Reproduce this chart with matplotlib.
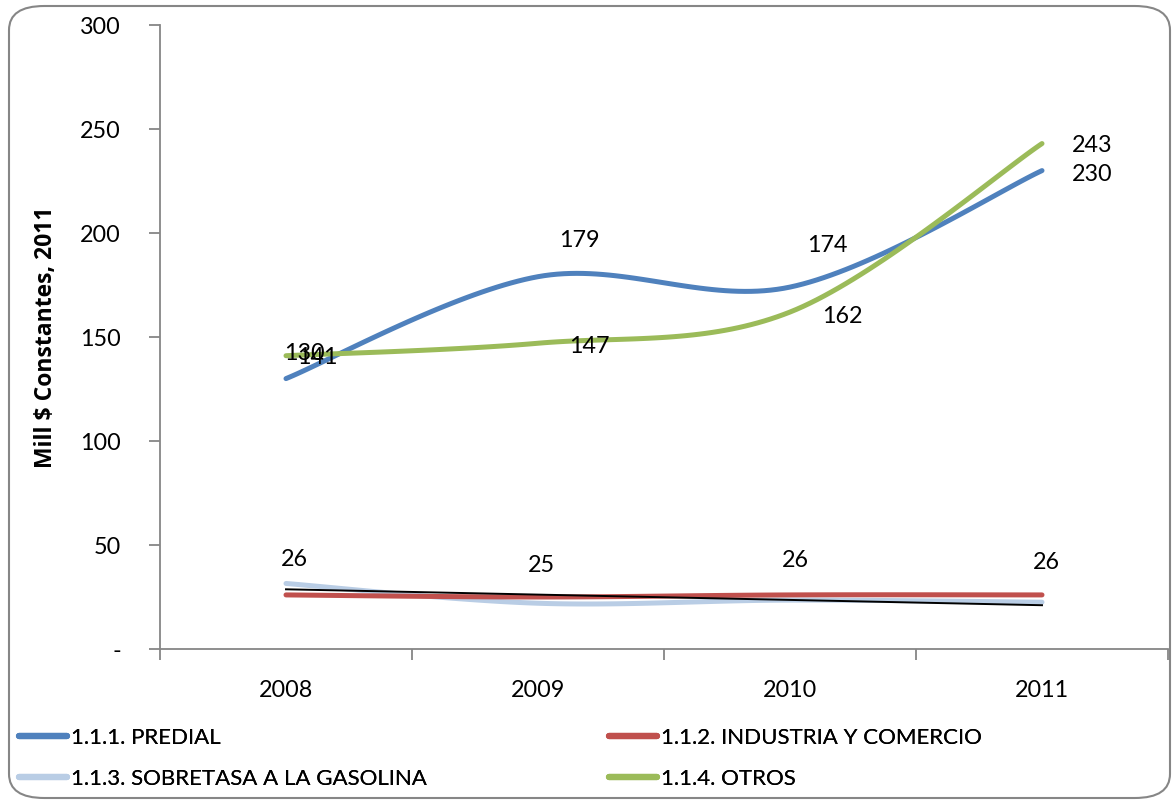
import numpy as np
import matplotlib
matplotlib.use("Agg")
import matplotlib.pyplot as plt
from matplotlib.patches import FancyBboxPatch
from matplotlib.lines import Line2D

years = ["2008", "2009", "2010", "2011"]
predial = [130, 179, 174, 230]
industria = [26, 25, 26, 26]
sobretasa = [31.5, 22, 23.5, 22.5]
otros = [141, 147, 162, 243]
series_names = ["1.1.1. PREDIAL", "1.1.2. INDUSTRIA Y COMERCIO",
                "1.1.3. SOBRETASA A LA GASOLINA", "1.1.4. OTROS"]
colors = ["#4F81BD", "#C0504D", "#B9CDE5", "#9BBB59"]
yticks = [0, 50, 100, 150, 200, 250, 300]
ytick_labels = ["-", "50", "100", "150", "200", "250", "300"]

plt.rcParams['font.family'] = ['Lato', 'DejaVu Sans']


def smooth(xs, ys, n=40):
    pts = np.column_stack([xs, ys]).astype(float)
    P = np.vstack([pts[0], pts, pts[-1]])
    out = []
    t = np.linspace(0, 1, n)
    for i in range(1, len(P) - 2):
        p0, p1, p2, p3 = P[i - 1], P[i], P[i + 1], P[i + 2]
        c1 = p1 + (p2 - p0) / 6.0
        c2 = p2 - (p3 - p1) / 6.0
        seg = ((1 - t) ** 3)[:, None] * p1 + (3 * t * (1 - t) ** 2)[:, None] * c1 \
            + (3 * t ** 2 * (1 - t))[:, None] * c2 + (t ** 3)[:, None] * p2
        out.append(seg if i == 1 else seg[1:])
    s = np.vstack(out)
    return s[:, 0], s[:, 1]


fig = plt.figure(figsize=(11.75, 8.02), dpi=100)
ax = fig.add_axes([160 / 1175, 1 - 649 / 802, (1168 - 160) / 1175, (649 - 25) / 802])

x = np.arange(len(years))
lw = 3.6
for vals, c in [(sobretasa, colors[2]), (industria, colors[1]), (predial, colors[0]), (otros, colors[3])]:
    sx, sy = smooth(x, vals)
    ax.plot(sx, sy, color=c, lw=lw, solid_capstyle='round', zorder=3)

# linear trend line of sobretasa
coef = np.polyfit(x, sobretasa, 1)
ax.plot(x, np.polyval(coef, x), color='black', lw=1.4, zorder=4)

fs = 16.8
pred_off = [(18, 25), (41, 36), (37, 42), (50, -4)]
otros_off = [(31, -2), (51, -3), (52, -4), (50, -2)]
ind_off = [(8, 35), (3, 31), (5, 34), (4, 32)]
for vals, offs in [(predial, pred_off), (otros, otros_off), (industria, ind_off)]:
    for xi, v, o in zip(x, vals, offs):
        ax.annotate(f"{v:g}", (xi, v), xytext=o, textcoords='offset pixels',
                    ha='center', va='center', fontsize=fs, color='black', zorder=5)

ax.set_xlim(-0.5, 3.5)
ax.set_ylim(0, 300)
ax.set_yticks(yticks)
ax.set_yticklabels(ytick_labels, fontsize=fs)
ax.set_xticks(x)
ax.set_xticklabels(years, fontsize=fs)
ax.tick_params(axis='x', length=0, pad=22)
ax.set_xticks([-0.5, 0.5, 1.5, 2.5, 3.5], minor=True)
ax.tick_params(axis='x', which='minor', length=8, color='#868686', width=1.3)
ax.tick_params(axis='y', length=8, color='#868686', width=1.3, pad=20)
for s in ['top', 'right']:
    ax.spines[s].set_visible(False)
for s in ['left', 'bottom']:
    ax.spines[s].set_color('#868686')
    ax.spines[s].set_linewidth(1.3)
ax.set_ylabel("Mill $ Constantes, 2011", fontsize=16.5, fontweight='bold',
              family=['Open Sans', 'DejaVu Sans'], labelpad=16)

handles = [Line2D([], [], color=c, lw=4.5, solid_capstyle='round') for c in colors]
leg_fs = 16
ycen = 1 - 758.5 / 802
for idxs, x0 in [([0, 2], 19 / 1175), ([1, 3], 609 / 1175)]:
    lg = fig.legend([handles[i] for i in idxs], [series_names[i] for i in idxs],
                    loc='center left', bbox_to_anchor=(x0, ycen), ncol=1,
                    frameon=False, fontsize=leg_fs, borderpad=0, borderaxespad=0,
                    handlelength=2.15, handletextpad=0.2, labelspacing=0.95)
    fig.add_artist(lg)

border = FancyBboxPatch((9 / 1175, 4 / 802), (1175 - 14) / 1175, (802 - 10) / 802,
                        boxstyle="round,pad=0,rounding_size=0.03",
                        transform=fig.transFigure, fill=False, edgecolor='#868686',
                        lw=1.5, zorder=0)
fig.patches.append(border)

fig.savefig("out.png", dpi=100)
